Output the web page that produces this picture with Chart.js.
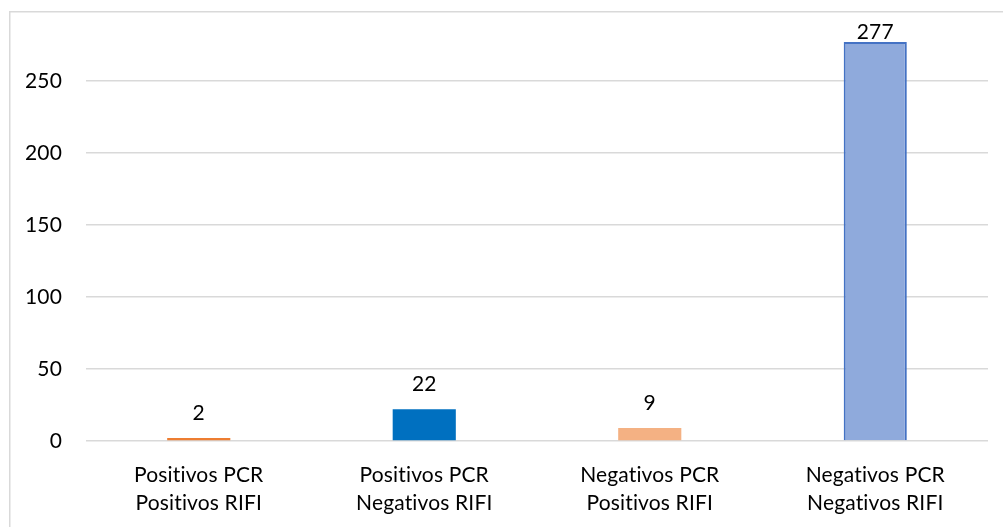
<!DOCTYPE html>
<html>
<head>
<meta charset="utf-8">
<script src="https://cdn.jsdelivr.net/npm/chart.js@4/dist/chart.umd.min.js"></script>
<style>
  html, body { margin: 0; padding: 0; background: #ffffff; }
  #wrap { width: 1003px; height: 527px; position: relative; }
</style>
</head>
<body>
<div id="wrap"><canvas id="c" width="1003" height="527"></canvas></div>
<script>
// Results of PCR vs RIFI testing
const categories = [
  ['Positivos PCR', 'Positivos RIFI'],
  ['Positivos PCR', 'Negativos RIFI'],
  ['Negativos PCR', 'Positivos RIFI'],
  ['Negativos PCR', 'Negativos RIFI']
];
const counts = [2, 22, 9, 277];
const yTicks = [0, 50, 100, 150, 200, 250];

const barFill = ['#ED7D31', '#0070C0', '#F4B183', '#8FAADC'];
const barEdge = ['#ED7D31', '#0070C0', '#F4B183', '#4472C4'];
const barEdgeWidth = [0, 0, 0, 2];

const FONT = 'Lato, Calibri, Carlito, "Open Sans", sans-serif';

// Thin gray frame around the chart (left and top edges show); also a tiny
// letter spacing so the text is drawn without the "ti" ligature
const framePlugin = {
  id: 'frame',
  beforeDraw(chart) {
    const ctx = chart.ctx;
    ctx.letterSpacing = '0.15px';
    ctx.save();
    ctx.strokeStyle = '#D9D9D9';
    ctx.lineWidth = 1.5;
    ctx.beginPath();
    ctx.moveTo(9.75, 527);
    ctx.lineTo(9.75, 11.75);
    ctx.lineTo(1003, 11.75);
    ctx.stroke();
    ctx.restore();
  }
};

// Value labels above each bar
const valueLabels = {
  id: 'valueLabels',
  afterDatasetsDraw(chart) {
    const ctx = chart.ctx;
    const meta = chart.getDatasetMeta(0);
    const top = chart.chartArea.top;
    ctx.save();
    ctx.font = '21px ' + FONT;
    ctx.fillStyle = '#000000';
    ctx.textAlign = 'center';
    ctx.textBaseline = 'middle';
    meta.data.forEach((bar, i) => {
      const y = Math.max(bar.y - 25, top + 23);
      ctx.fillText(String(counts[i]), bar.x, y);
    });
    ctx.restore();
  }
};

new Chart(document.getElementById('c'), {
  type: 'bar',
  data: {
    labels: categories,
    datasets: [{
      data: counts,
      backgroundColor: barFill,
      borderColor: barEdge,
      borderWidth: barEdgeWidth,
      categoryPercentage: 1,
      barPercentage: 0.28
    }]
  },
  options: {
    responsive: false,
    animation: false,
    layout: { padding: { left: 0, right: 15, top: 9, bottom: 0 } },
    plugins: {
      legend: { display: false },
      tooltip: { enabled: false }
    },
    scales: {
      x: {
        grid: { display: false, drawTicks: false },
        border: { display: false },
        ticks: {
          color: '#000000',
          font: { family: FONT, size: 21, lineHeight: 1.33 },
          padding: 20,
          maxRotation: 0,
          autoSkip: false
        },
        afterFit(scale) { scale.height = 86; }
      },
      y: {
        min: 0,
        max: 300,
        afterBuildTicks(scale) {
          scale.ticks = yTicks.map(v => ({ value: v }));
        },
        grid: { color: '#D9D9D9', lineWidth: 1.5, drawTicks: false },
        border: { display: false },
        ticks: {
          color: '#000000',
          font: { family: FONT, size: 21 },
          padding: 24
        },
        afterFit(scale) {
          scale.width = 86;
          scale.paddingTop = 0;
          scale.paddingBottom = 0;
        }
      }
    }
  },
  plugins: [framePlugin, valueLabels]
});
</script>
</body>
</html>
